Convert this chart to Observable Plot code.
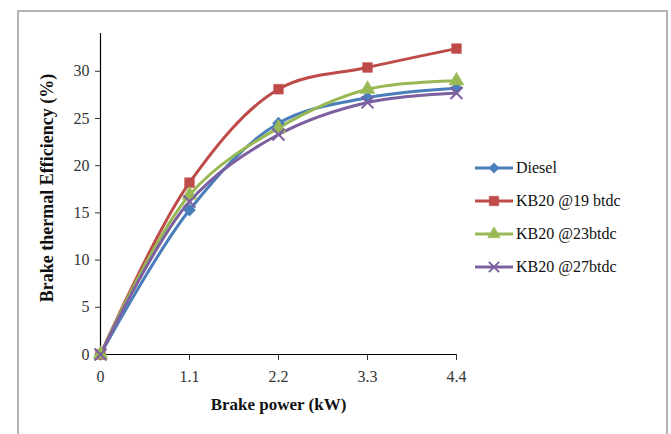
<!DOCTYPE html>
<html>
<head>
<meta charset="utf-8">
<script src="https://cdn.jsdelivr.net/npm/d3@7"></script>
<script src="https://cdn.jsdelivr.net/npm/@observablehq/plot@0.6"></script>
<style>
  html, body { margin: 0; padding: 0; background: #fff; }
  body { width: 671px; height: 434px; position: relative; overflow: hidden; font-family: "Liberation Serif", "DejaVu Serif", serif; }
  #frame { position: absolute; left: 17px; top: 10px; width: 651px; height: 440px; border: 2px solid #b4b4b4; box-sizing: border-box; }
  #chart { position: absolute; left: 0; top: 0; }
  #legend { position: absolute; left: 474px; top: 151px; }
  .row { display: flex; align-items: center; height: 33px; font-size: 16px; color: #111; }
  .row svg { margin-right: 2px; }
</style>
</head>
<body>
<div id="frame"></div>
<div id="chart"></div>
<div id="legend"></div>
<script>
const brakePower = [0, 1.1, 2.2, 3.3, 4.4];
const xTickLabels = ["0", "1.1", "2.2", "3.3", "4.4"];
const yTicks = [0, 5, 10, 15, 20, 25, 30];
const seriesNames = ["Diesel", "KB20 @19 btdc", "KB20 @23btdc", "KB20 @27btdc"];
const diesel = [0, 15.3, 24.5, 27.2, 28.2];
const kb19 = [0, 18.2, 28.1, 30.4, 32.4];
const kb23 = [0, 16.9, 24.0, 28.1, 29.0];
const kb27 = [0, 16.2, 23.3, 26.7, 27.7];
const colors = ["#4a7ebb", "#be4b48", "#98b954", "#7d60a0"];
const symbols = ["diamond2", "square", "triangle", "times"];

const seriesValues = [diesel, kb19, kb23, kb27];
const data = [];
seriesNames.forEach((s, i) => brakePower.forEach((x, j) => data.push({series: s, x, y: seriesValues[i][j]})));

const colorScale = {domain: seriesNames, range: colors};

const chart = Plot.plot({
  width: 671,
  height: 434,
  marginLeft: 100,
  marginRight: 215,
  marginTop: 33,
  marginBottom: 80,
  style: {fontFamily: "Liberation Serif, serif", fontSize: "16px", color: "#333", background: "transparent"},
  x: {domain: [0, 4.4], ticks: brakePower, tickFormat: (d, i) => xTickLabels[i], tickSize: 6, tickPadding: 10, label: null},
  y: {domain: [0, 34], ticks: yTicks, tickSize: 5, tickPadding: 6, label: null},
  color: colorScale,
  symbol: {domain: seriesNames, range: symbols},
  marks: [
    Plot.ruleX([0], {stroke: "#000", strokeWidth: 1.2}),
    Plot.ruleY([0], {stroke: "#000", strokeWidth: 1.2}),
    Plot.line(data, {x: "x", y: "y", stroke: "series", z: "series", curve: "catmull-rom", strokeWidth: 3}),
    Plot.dot(data.filter(d => d.series !== "KB20 @27btdc"), {x: "x", y: "y", fill: "series", symbol: "series", r: 5.5, stroke: "series", strokeWidth: 0.5}),
    Plot.dot(data.filter(d => d.series === "KB20 @27btdc"), {x: "x", y: "y", stroke: "series", symbol: "series", r: 5.5, strokeWidth: 2}),
    Plot.text(["Brake power (kW)"], {frameAnchor: "bottom", dy: 55, fontWeight: "bold", fontSize: 17, fill: "#111"}),
    Plot.text(["Brake thermal Efficiency (%)"], {frameAnchor: "left", textAnchor: "middle", dx: -53, dy: -6, rotate: -90, fontWeight: "bold", fontSize: 18, fill: "#111"})
  ]
});
document.getElementById("chart").appendChild(chart);

// Legend
const legend = document.getElementById("legend");
const symScale = Plot.scale({symbol: {domain: seriesNames, range: symbols}});
seriesNames.forEach((s, i) => {
  const row = document.createElement("div");
  row.className = "row";
  const sym = d3.symbol(symScale.apply(s), i === 1 ? 90 : 70)();
  const fill = i === 3 ? "none" : colors[i];
  row.innerHTML = `<svg width="40" height="14"><line x1="1" y1="7" x2="39" y2="7" stroke="${colors[i]}" stroke-width="3"/><path transform="translate(20,7)" d="${sym}" fill="${fill}" stroke="${colors[i]}" stroke-width="${i === 3 ? 2 : 0.5}"/></svg><span>${s}</span>`;
  legend.appendChild(row);
});
</script>
</body>
</html>
